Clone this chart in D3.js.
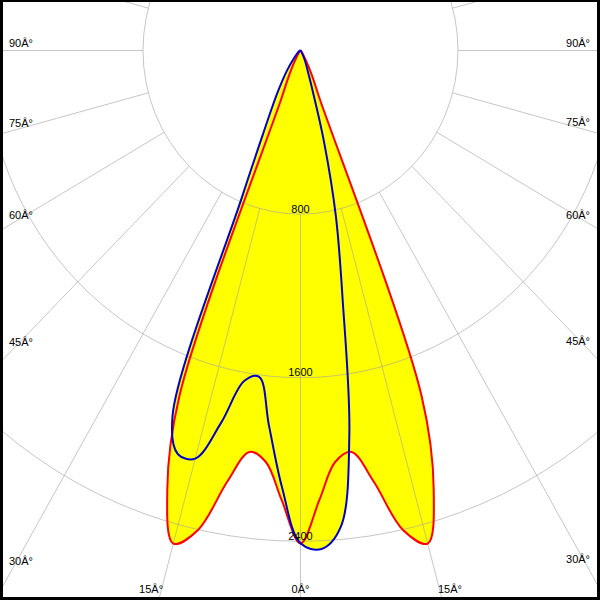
<!DOCTYPE html>
<html><head><meta charset="utf-8">
<script src="https://cdn.jsdelivr.net/npm/d3@7"></script>
<style>body{margin:0;background:#fff}</style>
</head><body>
<svg id="c" width="600" height="600"></svg>
<script>
// gamma angles (deg), positive = right side
const gammaAngles = [-90,-80,-70,-60,-50,-40,-35,-30,-27.5,-25,-22.5,-20,-17.5,-15,-12.5,-10,-7.5,-5,-2.5,0,2.5,5,7.5,10,12.5,15,17.5,20,22.5,25,27.5,30,35,40,50,60,70,80,90];
// red curve (cd)
const planeRed = [0,0,0,0,2,8,20,50,90,150,250,1800,2250,2496,2400,2140,1980,2020,2200,2411,2200,2020,1980,2140,2400,2496,2250,1800,250,150,90,50,20,8,2,0,0,0,0];
// blue curve (cd)
const planeBlue = [0,1,3,8,20,60,120,225,310,450,780,1900,2070,2066,1865,1640,1610,1840,2140,2410,2440,2340,1900,1230,830,460,200,110,75,50,32,20,10,5,2,1,0,0,0];
const ringValues = [800,1600,2400,3200];
const ringLabels = ["800","1600","2400"];
const spokeAngles = d3.range(0,360,15);
const sideLabelAngles = [90,75,60,45,30];
const bottomLabelAngles = [-15,0,15];
const degSuffix = "Â°";

const W = 600, H = 600;
const cx = 300.5, cy = 50.5;
const rx = d3.scaleLinear().domain([0,800]).range([0,157.5]);
const ry = d3.scaleLinear().domain([0,800]).range([0,163.6]);
const rad = d => d*Math.PI/180;
const px = (g,v) => cx + rx(v)*Math.sin(rad(g));
const py = (g,v) => cy + ry(v)*Math.cos(rad(g));

const svg = d3.select("#c");
svg.append("rect").attr("width",W).attr("height",H).attr("fill","#fff");
svg.append("clipPath").attr("id","clip").append("rect").attr("x",0).attr("y",0).attr("width",W).attr("height",H);
const g = svg.append("g").attr("clip-path","url(#clip)");

const line = d3.line().x(d=>px(d.g,d.v)).y(d=>py(d.g,d.v)).curve(d3.curveCatmullRom.alpha(0.5));
const redData = gammaAngles.map((a,i)=>({g:a,v:planeRed[i]}));
const blueData = gammaAngles.map((a,i)=>({g:a,v:planeBlue[i]}));

// fills
[redData, blueData].forEach(d=>{
  g.append("path").attr("d", line(d)+"Z").attr("fill","#ffff00").attr("stroke","none");
});

// grid
const grid = g.append("g").attr("fill","none").attr("stroke","#a0a0a0").attr("stroke-opacity",0.6).attr("stroke-width",1);
ringValues.forEach(v=>{
  grid.append("ellipse").attr("cx",cx).attr("cy",cy).attr("rx",rx(v)).attr("ry",ry(v));
});
spokeAngles.forEach(a=>{
  grid.append("line")
    .attr("x1",px(a,ringValues[0])).attr("y1",py(a,ringValues[0]))
    .attr("x2",px(a,5000)).attr("y2",py(a,5000));
});

// curves
g.append("path").attr("d",line(redData)).attr("fill","none").attr("stroke","#ff0000").attr("stroke-width",2).attr("stroke-linejoin","round");
g.append("path").attr("d",line(blueData)).attr("fill","none").attr("stroke","#0000cc").attr("stroke-width",2).attr("stroke-linejoin","round");

// labels
const font = "'Liberation Sans', Arial, sans-serif";
const lab = g.append("g").attr("font-family",font).attr("font-size","11px").attr("fill","#000");
ringLabels.forEach((t,i)=>{
  lab.append("text").attr("x",cx).attr("y",py(0,ringValues[i])-1.5).attr("text-anchor","middle").text(t);
});
// ray y at given x for angle a (deg from downward, positive right)
function rayYatX(a, x){
  const r = (x-cx)/(rx(1)*Math.sin(rad(a)));
  return cy + ry(r)*Math.cos(rad(a));
}
sideLabelAngles.forEach(a=>{
  lab.append("text").attr("x",9).attr("y",rayYatX(-a,12.5)-4).attr("text-anchor","start").text(a+degSuffix);
  lab.append("text").attr("x",590).attr("y",rayYatX(a,W-12.5)-4).attr("text-anchor","end").text(a+degSuffix);
});
const by = 593;
bottomLabelAngles.forEach(a=>{
  const r = (by-cy)/(ry(1)*Math.cos(rad(a)));
  const x = cx + rx(r)*Math.sin(rad(a));
  const anchor = a<0 ? "end" : (a>0 ? "start" : "middle");
  const dx = a<0 ? 2.5 : (a>0 ? -2.5 : 0);
  lab.append("text").attr("x",x+dx).attr("y",by).attr("text-anchor",anchor).text(Math.abs(a)+degSuffix);
});

// frame
svg.append("rect").attr("x",0).attr("y",0).attr("width",3).attr("height",H).attr("fill","#000");
svg.append("rect").attr("x",W-3).attr("y",0).attr("width",3).attr("height",H).attr("fill","#000");
svg.append("rect").attr("x",0).attr("y",0).attr("width",W).attr("height",2).attr("fill","#000");
svg.append("rect").attr("x",0).attr("y",H-3).attr("width",W).attr("height",3).attr("fill","#000");
</script>
</body></html>
